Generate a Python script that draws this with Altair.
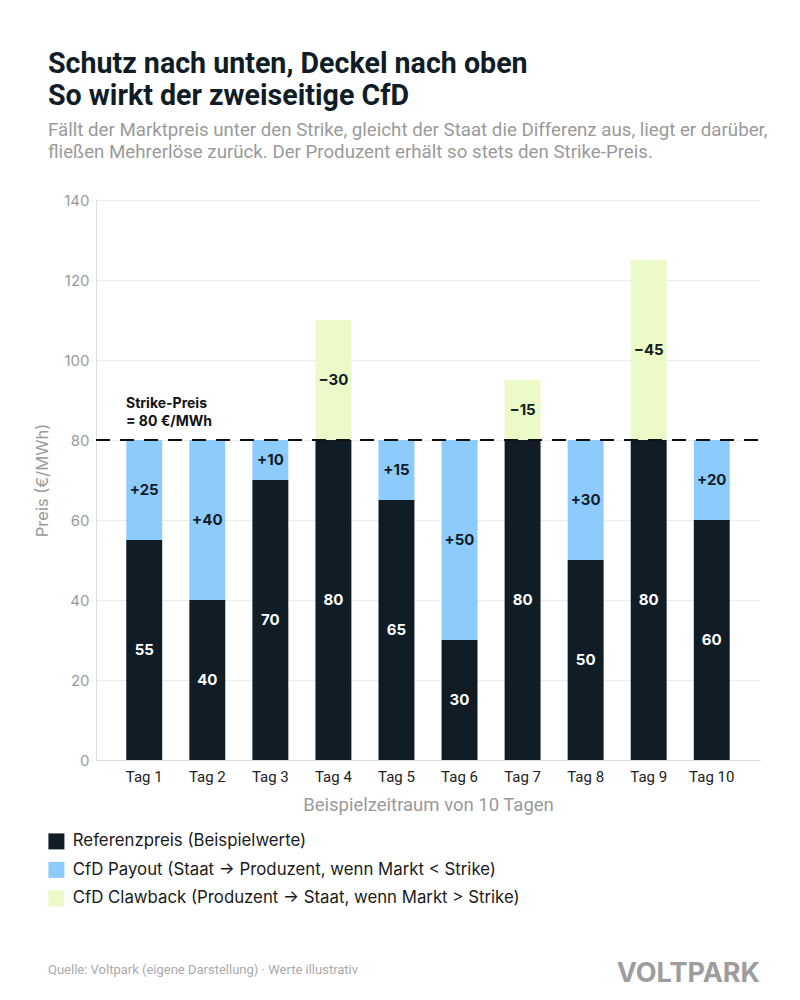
import altair as alt
import pandas as pd

# Beispielwerte für 10 Tage (€/MWh)
days = [f"Tag {i}" for i in range(1, 11)]
referenzpreis = [55, 40, 70, 80, 65, 30, 80, 50, 80, 60]
payout = [25, 40, 10, 0, 15, 50, 0, 30, 0, 20]
clawback = [0, 0, 0, 30, 0, 0, 15, 0, 45, 0]
strike_price = 80
y_ticks = [0, 20, 40, 60, 80, 100, 120, 140]

series_names = [
    "Referenzpreis (Beispielwerte)",
    "CfD Payout (Staat → Produzent, wenn Markt < Strike)",
    "CfD Clawback (Produzent → Staat, wenn Markt > Strike)",
]
series_colors = ["#101d26", "#8ecbfd", "#ebfac6"]

W, H = 664, 560

# Long table with stacked start/end per segment
rows = []
for i, d in enumerate(days):
    base = 0
    for k, (vals, prefix) in enumerate(
        [(referenzpreis, ""), (payout, "+"), (clawback, "−")]
    ):
        v = vals[i]
        if v > 0:
            rows.append(
                {
                    "day": d,
                    "series": series_names[k],
                    "order": k,
                    "start": base,
                    "end": base + v,
                    "mid": base + v / 2,
                    "label": f"{prefix}{v}",
                    "dark": k == 0,
                }
            )
        base += v
df = pd.DataFrame(rows)

x_enc = alt.X(
    "day:N",
    sort=days,
    scale=alt.Scale(paddingInner=0.43, paddingOuter=0.48),
    axis=alt.Axis(
        labelAngle=0,
        ticks=False,
        grid=False,
        domainColor="#dddddd",
        labelFont="Roboto",
        labelFontSize=15,
        labelColor="#222222",
        labelPadding=9,
        title="Beispielzeitraum von 10 Tagen",
        titleFont="Roboto",
        titleFontSize=18.5,
        titleFontWeight="normal",
        titleColor="#9a9a9a",
        titlePadding=11,
    ),
)

y_scale = alt.Scale(domain=[0, 140], nice=False)

bars = alt.Chart(df).mark_bar().encode(
    x=x_enc,
    y=alt.Y(
        "start:Q",
        scale=y_scale,
        axis=alt.Axis(
            values=y_ticks,
            grid=True,
            gridColor="#ededed",
            domain=True,
            domainColor="#dddddd",
            ticks=False,
            labelFont="Inter",
            labelFontSize=15,
            labelColor="#9a9a9a",
            labelPadding=7,
            title="Preis (€/MWh)",
            titleFont="Inter",
            titleFontSize=16.5,
            titleFontWeight="normal",
            titleColor="#9a9a9a",
            titlePadding=13,
        ),
    ),
    y2="end:Q",
    color=alt.Color(
        "series:N",
        scale=alt.Scale(domain=series_names, range=series_colors),
        legend=alt.Legend(
            orient="none",
            legendX=-48,
            legendY=633,
            direction="vertical",
            title=None,
            symbolType="square",
            symbolSize=256,
            symbolStrokeWidth=0,
            symbolOpacity=1,
            labelFont="Inter",
            labelFontSize=16.8,
            labelColor="#1a1a1a",
            labelOffset=8,
            labelLimit=700,
            rowPadding=10.5,
            padding=0,
        ),
    ),
)

label_white = (
    alt.Chart(df[df["dark"]])
    .mark_text(font="Inter", fontSize=15, fontWeight="bold", color="#ffffff", baseline="middle")
    .encode(x=alt.X("day:N", sort=days), y=alt.Y("mid:Q", scale=y_scale), text="label:N")
)
label_dark = (
    alt.Chart(df[~df["dark"]])
    .mark_text(font="Inter", fontSize=15, fontWeight="bold", color="#101d26", baseline="middle")
    .encode(x=alt.X("day:N", sort=days), y=alt.Y("mid:Q", scale=y_scale), text="label:N")
)

strike_df = pd.DataFrame({"strike": [strike_price]})
strike_rule = (
    alt.Chart(strike_df)
    .mark_rule(color="#111111", strokeWidth=2.2, strokeDash=[14, 10])
    .encode(y=alt.Y("strike:Q", scale=y_scale), x=alt.value(0), x2=alt.value(W))
)
strike_label = (
    alt.Chart(strike_df)
    .mark_text(
        font="Inter",
        fontSize=14,
        fontWeight="bold",
        color="#111111",
        align="left",
        baseline="bottom",
        lineHeight=18,
        dy=-29,
    )
    .encode(
        y=alt.Y("strike:Q", scale=y_scale),
        x=alt.value(30),
        text=alt.value(["Strike-Preis", f"= {strike_price} €/MWh"]),
    )
)


def text_line(txt, x, y, size, color, weight="normal", font="Roboto", align="left"):
    return (
        alt.Chart(pd.DataFrame({"t": [txt]}))
        .mark_text(
            font=font,
            fontSize=size,
            fontWeight=weight,
            color=color,
            align=align,
            baseline="alphabetic",
        )
        .encode(x=alt.value(x), y=alt.value(y), text="t:N")
    )


texts = [
    text_line("Schutz nach unten, Deckel nach oben", -48, -127, 28.6, "#101d26", "bold"),
    text_line("So wirkt der zweiseitige CfD", -48, -95, 28.6, "#101d26", "bold"),
    text_line(
        "Fällt der Marktpreis unter den Strike, gleicht der Staat die Differenz aus, liegt er darüber,",
        -48, -64, 18.7, "#9a9a9a",
    ),
    text_line(
        "fließen Mehrerlöse zurück. Der Produzent erhält so stets den Strike-Preis.",
        -48, -42, 18.7, "#9a9a9a",
    ),
    text_line("Quelle: Voltpark (eigene Darstellung) · Werte illustrativ", -48, 774, 13, "#aaaaaa"),
    text_line("VOLTPARK", W, 782, 27, "#9d9d9d", "bold", "Inter", "right"),
]

chart = (
    alt.layer(bars, strike_rule, label_white, label_dark, strike_label, *texts)
    .properties(
        width=W,
        height=H,
        autosize=alt.AutoSizeParams(type="none"),
        padding={"left": 96, "top": 200, "right": 40, "bottom": 240},
        background="#ffffff",
    )
    .configure_view(stroke=None)
)

chart.save("out.html", embed_options={"renderer": "svg", "actions": False})
